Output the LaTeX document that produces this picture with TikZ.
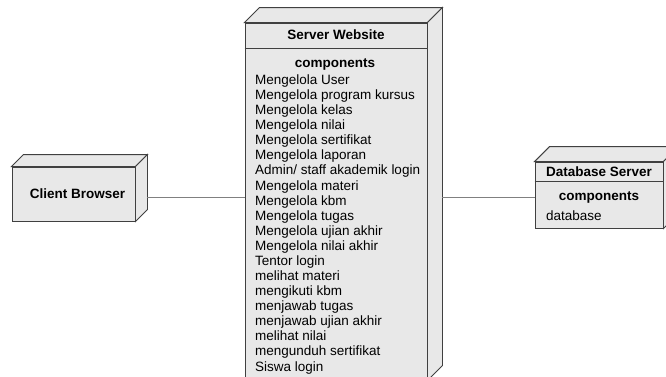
\documentclass[tikz,border=0pt]{standalone}
\usepackage{fontspec}
\setmainfont{Liberation Sans}
\usetikzlibrary{calc}

% depth faces of a UML node box: #1 = front node, #2 = depth
\newcommand\depthfaces[2]{%
  \filldraw[boxline] (#1.north west) -- ++(#2,-#2)
    -- ($(#1.north east)+(#2,-#2)$) -- (#1.north east) -- cycle;
  \filldraw[boxline] (#1.north east) -- ++(#2,-#2)
    -- ($(#1.south east)+(#2,-#2)$) -- (#1.south east) -- cycle;
}

\begin{document}
\begin{tikzpicture}[x=1pt,y=-1pt,
    boxline/.style={draw=black!75,fill=black!9,line width=0.9pt},
    frontface/.style={boxline,rectangle,inner sep=0pt},
    wire/.style={draw=black!50,line width=0.9pt},
    txt/.style={inner sep=0pt,font=\fontsize{13.5}{15}\selectfont},
    title/.style={txt,font=\fontsize{13.5}{15}\selectfont\bfseries}]

  \useasboundingbox (0,0) rectangle (666,376);
  \clip (0,0) rectangle (666,376);

  % --- front faces ---
  \node[frontface,minimum width=123pt,minimum height=54pt]  (client) at (73.5,194) {};
  \node[frontface,minimum width=182pt,minimum height=357pt] (server) at (336,201.5) {};
  \node[frontface,minimum width=128pt,minimum height=66pt]  (db)     at (599,195) {};

  % --- depth ---
  \depthfaces{client}{12}
  \depthfaces{server}{15}
  \depthfaces{db}{15}

  % header separators
  \coordinate (serversep) at (0,48);
  \coordinate (dbsep) at (0,181);
  \draw[boxline] (server.west |- serversep) -- (server.east |- serversep);
  \draw[boxline] (db.west |- dbsep) -- (db.east |- dbsep);

  % --- connectors ---
  \coordinate (wirey) at (0,197);
  \draw[wire] ([xshift=12pt]client.east |- wirey) -- (server.west |- wirey);
  \draw[wire] ([xshift=15pt]server.east |- wirey) -- (db.west |- wirey);

  % --- texts ---
  \node[title,anchor=base] (clienttitle) at (77.5,198) {Client Browser};
  \node[title,anchor=base] (servertitle) at (336,39.5) {Server Website};
  \node[title,anchor=base] (servercomp)  at (335,67.5) {components};
  \node[title,anchor=base] (dbtitle)     at (599,176) {Database Server};
  \node[title,anchor=base] (dbcomp)      at (599,200) {components};
  \node[txt,anchor=base west] (dbitem)   at (546,220) {database};

  \foreach \t [count=\i] in {Mengelola User, Mengelola program kursus,
      Mengelola kelas, Mengelola nilai, Mengelola sertifikat,
      Mengelola laporan, Admin/ staff akademik login, Mengelola materi,
      Mengelola kbm, Mengelola tugas, Mengelola ujian akhir,
      Mengelola nilai akhir, Tentor login, melihat materi, mengikuti kbm,
      menjawab tugas, menjawab ujian akhir, melihat nilai,
      mengunduh sertifikat, Siswa login}
    \node[txt,anchor=base west] (item\i) at (255,{84.5+15.08*(\i-1)}) {\t};

\end{tikzpicture}
\end{document}
